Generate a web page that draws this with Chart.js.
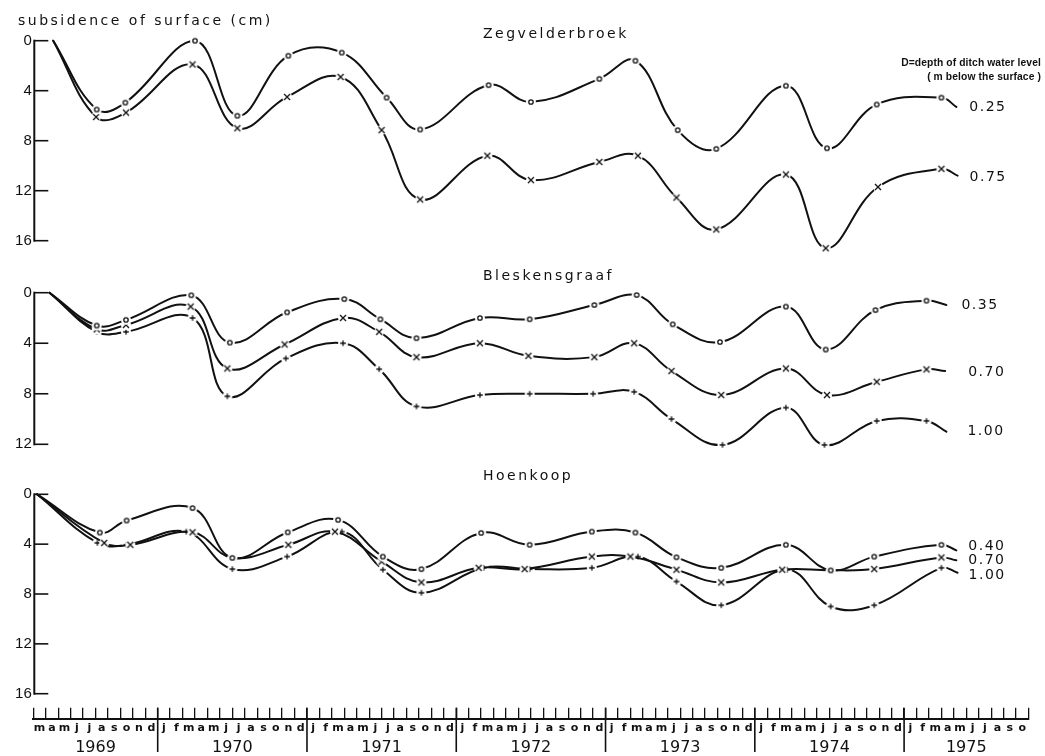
<!DOCTYPE html>
<html><head><meta charset="utf-8">
<script src="https://cdn.jsdelivr.net/npm/chart.js@4.4.0/dist/chart.umd.min.js"></script>
<style>
body{margin:0;background:#fff;}
#wrap{position:relative;width:1045px;height:756px;overflow:hidden;background:#fff;font-family:"DejaVu Sans",sans-serif;color:#111;}
canvas{position:absolute;left:0;top:0;}
.t{position:absolute;white-space:nowrap;font-size:14px;line-height:14px;letter-spacing:2.5px;}
.lg{position:absolute;white-space:nowrap;font-family:"Liberation Sans",sans-serif;font-weight:bold;font-size:10.3px;line-height:11px;letter-spacing:0.1px;text-align:right;right:4px;}
</style></head><body>
<div id="wrap">
<canvas id="c1" width="1045" height="756"></canvas>
<canvas id="c2" width="1045" height="756"></canvas>
<canvas id="c3" width="1045" height="756"></canvas>
<canvas id="c4" width="1045" height="756"></canvas>
<div class="t" style="left:18px;top:13px;">subsidence of surface (cm)</div>
<div class="t" style="left:483px;top:26px;">Zegvelderbroek</div>
<div class="t" style="left:483px;top:268px;">Bleskensgraaf</div>
<div class="t" style="left:483px;top:468px;">Hoenkoop</div>
<div class="lg" style="top:57px;">D=depth of ditch water level</div>
<div class="lg" style="top:71px;">( m below the surface )</div>
</div>
<script>
// ---- axis labels ----
const yearLabels = ['1969','1970','1971','1972','1973','1974','1975'];
const monthsPerYear = [10,12,12,12,12,12,10];
const monthLabels = [
 'm','a','m','j','j','a','s','o','n','d',
 'j','f','m','a','m','j','j','a','s','o','n','d',
 'j','f','m','a','m','j','j','a','s','o','n','d',
 'j','f','m','a','m','j','j','a','s','o','n','d',
 'j','f','m','a','m','j','j','a','s','o','n','d',
 'j','f','m','a','m','j','j','a','s','o','n','d',
 'j','f','m','a','m','j','j','a','s','o'
];
// x values: months since 1 March 1969; y values: subsidence in cm
// ---- Zegvelderbroek ----
const zegX025 = [1.6,5.1,7.4,13.0,16.4,20.5,24.8,28.4,31.1,36.6,40.0,45.5,48.4,51.8,54.9,60.5,63.8,67.8,73.0,74.2];
const zeg025  = [0,5.5,4.95,0,6.0,1.2,0.95,4.55,7.1,3.55,4.9,3.05,1.6,7.15,8.65,3.6,8.6,5.1,4.55,5.3];
const zegX075 = [1.6,5.05,7.45,12.8,16.4,20.4,24.7,28.0,31.1,36.5,40.0,45.5,48.6,51.7,54.9,60.5,63.7,67.9,73.0,74.3];
const zeg075  = [0,6.1,5.75,1.9,7.0,4.5,2.9,7.15,12.7,9.2,11.15,9.7,9.2,12.55,15.1,10.7,16.6,11.7,10.25,10.8];
// ---- Bleskensgraaf ----
const blesX035 = [1.3,5.1,7.45,12.7,15.8,20.4,25.0,27.9,30.8,35.9,39.9,45.1,48.5,51.4,55.2,60.5,63.7,67.7,71.8,73.4];
const bles035  = [0,2.6,2.15,0.2,3.95,1.55,0.5,2.1,3.6,2.0,2.1,0.97,0.18,2.5,3.9,1.1,4.5,1.37,0.63,0.97];
const blesX070 = [1.3,5.1,7.45,12.65,15.6,20.2,24.9,27.8,30.8,35.9,39.8,45.1,48.3,51.3,55.3,60.5,63.8,67.8,71.8,73.3];
const bles070  = [0,2.9,2.55,1.1,6.0,4.1,2.0,3.1,5.1,4.0,5.0,5.1,4.0,6.2,8.1,6.0,8.1,7.05,6.07,6.2];
const blesX100 = [1.3,5.1,7.45,12.8,15.6,20.3,24.9,27.8,30.8,35.9,39.9,45.0,48.3,51.3,55.4,60.5,63.6,67.8,71.8,73.4];
const bles100  = [0,3.1,3.1,2.0,8.2,5.2,4.0,6.05,9.0,8.1,8.0,8.0,7.85,10.0,12.05,9.1,12.05,10.15,10.15,11.0];
// ---- Hoenkoop ----
const hoenX040 = [0.3,5.35,7.5,12.8,16.0,20.45,24.5,28.1,31.2,36.0,39.9,44.9,48.4,51.7,55.3,60.5,64.1,67.6,73.0,74.2];
const hoen040  = [0,3.07,2.1,1.1,5.1,3.05,2.05,5.0,6.0,3.1,4.05,2.99,3.07,5.05,5.9,4.05,6.1,5.0,4.05,4.5];
const hoenX070 = [0.3,5.7,7.8,12.8,16.0,20.5,24.25,28.0,31.2,35.8,39.5,44.9,48.0,51.7,55.3,60.2,64.1,67.6,73.0,74.2];
const hoen070  = [0,3.9,4.05,3.05,5.1,4.05,3.0,5.4,7.07,5.9,6.0,5.0,5.0,6.05,7.07,6.05,6.1,6.0,5.07,5.3];
const hoenX100 = [0.3,5.15,7.5,12.3,16.0,20.4,24.8,28.1,31.2,36.2,39.9,44.9,48.6,51.7,55.3,60.6,64.1,67.6,73.0,74.3];
const hoen100  = [0,3.9,4.05,3.0,6.0,5.0,3.0,6.05,7.9,5.9,6.0,5.9,5.0,7.0,8.9,6.05,9.0,8.9,5.9,6.3];

const INK = '#111';
const LEFT = 33.3, RIGHT_PAD = 16.5;

function makeMarker(kind){
  const c = document.createElement('canvas'); c.width = c.height = 12;
  const g = c.getContext('2d');
  g.fillStyle = '#fff'; g.beginPath(); g.arc(6,6,5,0,Math.PI*2); g.fill();
  g.strokeStyle = INK; g.lineWidth = 1.3; g.beginPath();
  if (kind === 'o') { g.arc(6,6,2.2,0,Math.PI*2); }
  else if (kind === 'x') { g.moveTo(3,3); g.lineTo(9,9); g.moveTo(9,3); g.lineTo(3,9); }
  else { g.moveTo(6,3.2); g.lineTo(6,8.8); g.moveTo(3.2,6); g.lineTo(8.8,6); }
  g.stroke();
  return c;
}
const markers = { o: makeMarker('o'), x: makeMarker('x'), p: makeMarker('p') };

const panelDecor = {
  id: 'panelDecor',
  afterDraw(chart){
    const ctx = chart.ctx, y = chart.scales.y, L = chart.chartArea.left + 1;
    ctx.save();
    ctx.strokeStyle = INK; ctx.lineCap = 'butt';
    ctx.lineWidth = 2;
    ctx.beginPath(); ctx.moveTo(L, y.getPixelForValue(0) - 1); ctx.lineTo(L, y.getPixelForValue(y.max) + 1); ctx.stroke();
    ctx.lineWidth = 1.6;
    y.ticks.forEach(t => {
      const p = y.getPixelForValue(t.value);
      ctx.beginPath(); ctx.moveTo(L, p); ctx.lineTo(L + 14, p); ctx.stroke();
    });
    ctx.restore();
  },
  afterDatasetsDraw(chart){
    const ctx = chart.ctx;
    ctx.save();
    ctx.fillStyle = INK; ctx.font = '14px "DejaVu Sans"'; ctx.textBaseline = 'middle'; ctx.textAlign = 'left';
    try { ctx.letterSpacing = '1.5px'; } catch(e) {}
    chart.data.datasets.forEach((ds, i) => {
      if (!ds.endLabel) return;
      const pts = chart.getDatasetMeta(i).data;
      const pt = pts[pts.length - 1];
      ctx.fillText(ds.endLabel, pt.x + ds.labelDx, pt.y + ds.labelDy);
    });
    ctx.restore();
  }
};

function panelChart(id, top, bottom, ymax, series){
  const datasets = series.map(s => ({
    data: s.x.map((m, i) => ({ x: m, y: s.y[i] })),
    borderColor: INK, borderWidth: 2, tension: 0.4, fill: false,
    borderCapStyle: 'round', clip: false,
    pointStyle: markers[s.marker],
    pointRadius: c => (c.dataIndex === 0 || c.dataIndex === s.x.length - 1) ? 0 : 12,
    endLabel: s.label, labelDx: s.dx, labelDy: s.dy
  }));
  return new Chart(document.getElementById(id), {
    type: 'line',
    data: { datasets },
    options: {
      responsive: false, animation: false, devicePixelRatio: 1, events: [],
      layout: { padding: { left: 0, right: RIGHT_PAD, top: top, bottom: 756 - bottom }, autoPadding: false },
      plugins: { legend: { display: false }, tooltip: { enabled: false } },
      scales: {
        x: { type: 'linear', min: 0, max: 80, display: false },
        y: { type: 'linear', reverse: true, min: 0, max: ymax,
             afterFit: sc => { sc.width = LEFT; },
             grid: { display: false, drawTicks: false }, border: { display: false },
             ticks: { stepSize: 4, padding: 1.5, color: INK, font: { family: 'Liberation Sans', size: 15 } } }
      }
    },
    plugins: [panelDecor]
  });
}

panelChart('c1', 40.7, 240.7, 16, [
  { x: zegX025, y: zeg025, marker: 'o', label: '0.25', dx: 13, dy: 0 },
  { x: zegX075, y: zeg075, marker: 'x', label: '0.75', dx: 12, dy: 2 }
]);
panelChart('c2', 292.7, 444.3, 12, [
  { x: blesX035, y: bles035, marker: 'o', label: '0.35', dx: 15, dy: 0 },
  { x: blesX070, y: bles070, marker: 'x', label: '0.70', dx: 23, dy: 1 },
  { x: blesX100, y: bles100, marker: 'p', label: '1.00', dx: 21, dy: 0 }
]);
panelChart('c3', 494.3, 693.7, 16, [
  { x: hoenX040, y: hoen040, marker: 'o', label: '0.40', dx: 12, dy: -4 },
  { x: hoenX070, y: hoen070, marker: 'x', label: '0.70', dx: 12, dy: 0 },
  { x: hoenX100, y: hoen100, marker: 'p', label: '1.00', dx: 11, dy: 3 }
]);

// ---- time axis ----
const yearBounds = []; const yearCenters = [];
monthsPerYear.reduce((acc, n) => { yearCenters.push(acc + n / 2); yearBounds.push(acc + n); return acc + n; }, 0);
yearBounds.pop();

const axisDecor = {
  id: 'axisDecor',
  afterDraw(chart){
    const ctx = chart.ctx, x = chart.scales.x;
    ctx.save(); ctx.strokeStyle = INK; ctx.lineWidth = 1.6;
    yearBounds.forEach(b => {
      const p = x.getPixelForValue(b);
      ctx.beginPath(); ctx.moveTo(p, chart.chartArea.top); ctx.lineTo(p, 752); ctx.stroke();
    });
    ctx.restore();
  }
};

new Chart(document.getElementById('c4'), {
  type: 'line',
  data: { datasets: [] },
  options: {
    responsive: false, animation: false, devicePixelRatio: 1, events: [],
    layout: { padding: { left: LEFT, right: RIGHT_PAD, top: 707.7, bottom: 0 }, autoPadding: false },
    plugins: { legend: { display: false }, tooltip: { enabled: false } },
    scales: {
      x: { type: 'linear', min: 0, max: 80, position: 'bottom',
           afterBuildTicks: sc => { sc.ticks = monthLabels.map((_, i) => ({ value: i + 0.5 })); },
           afterFit: sc => { sc.height = 16; },
           ticks: { autoSkip: false, maxRotation: 0, minRotation: 0, padding: 2, color: INK,
                    callback: (v, i) => monthLabels[i],
                    font: { family: 'DejaVu Sans', size: 11, weight: 'bold' } },
           grid: { offset: true, drawOnChartArea: true, drawTicks: false, color: INK, lineWidth: 1.3 },
           border: { display: true, color: INK, width: 2 } },
      x2: { type: 'linear', min: 0, max: 80, position: 'bottom',
           afterBuildTicks: sc => { sc.ticks = yearCenters.map(v => ({ value: v })); },
           afterFit: sc => { sc.height = 20.7; },
           ticks: { autoSkip: false, maxRotation: 0, minRotation: 0, padding: 3, color: INK,
                    callback: (v, i) => yearLabels[i],
                    font: { family: 'DejaVu Sans', size: 16 } },
           grid: { display: false, drawTicks: false }, border: { display: false } },
      y: { display: false, min: 0, max: 1 }
    }
  },
  plugins: [axisDecor]
});
</script>
</body></html>
